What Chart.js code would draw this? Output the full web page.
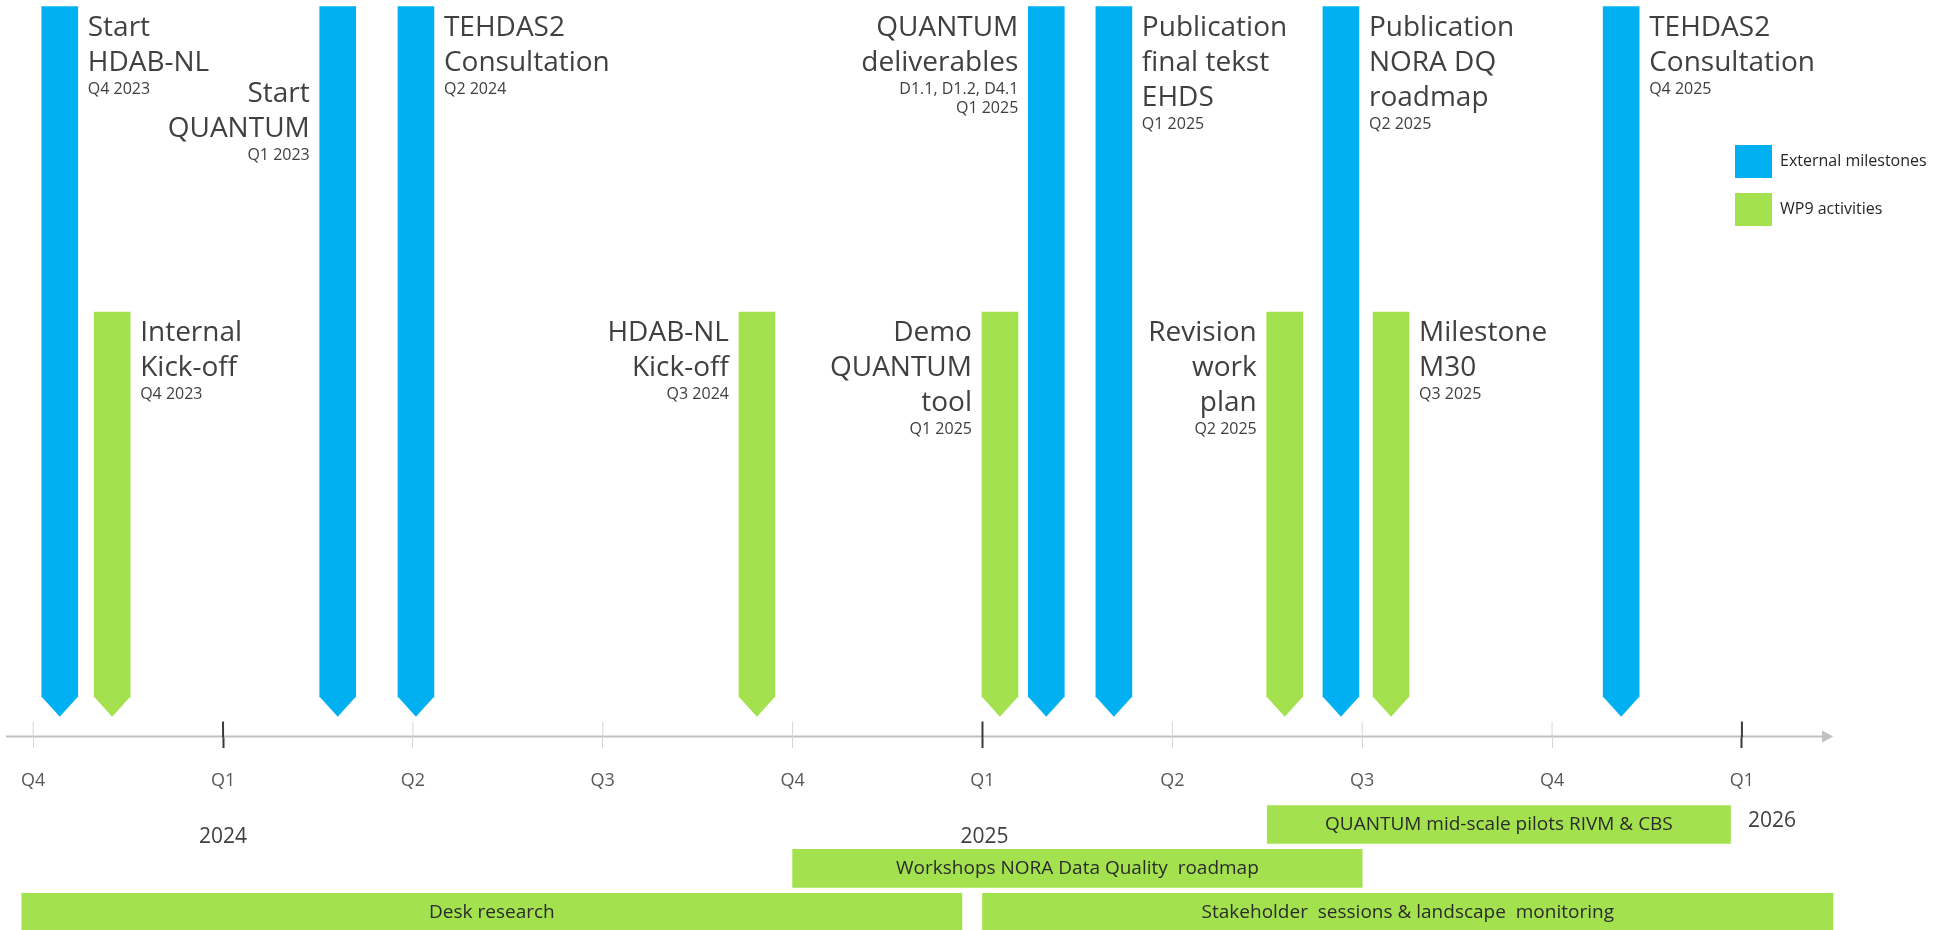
<!DOCTYPE html>
<html>
<head>
<meta charset="utf-8">
<title>WP9 timeline</title>
<script src="https://cdn.jsdelivr.net/npm/chart.js@4.4.1/dist/chart.umd.min.js"></script>
<style>
  html, body { margin: 0; padding: 0; background: #fff; }
  #wrap { width: 1933px; height: 930px; }
</style>
</head>
<body>
<div id="wrap"><canvas id="canvas"></canvas></div>
<script>
// time axis (years as decimals, one tick per quarter)
var quarterTicks = [2023.75, 2024, 2024.25, 2024.5, 2024.75, 2025, 2025.25, 2025.5, 2025.75, 2026];
var quarterLabels = ['Q4', 'Q1', 'Q2', 'Q3', 'Q4', 'Q1', 'Q2', 'Q3', 'Q4', 'Q1'];
var yearTicks = [2024, 2025, 2026];
var yearLabels = ['2024', '2025', '2026'];

// external milestones
var extDates = [2023.785, 2024.151, 2024.254, 2025.084, 2025.173, 2025.472, 2025.841];
var extTitles = [['Start', 'HDAB-NL'], ['Start', 'QUANTUM'], ['TEHDAS2', 'Consultation'], ['QUANTUM', 'deliverables'],
    ['Publication', 'final tekst', 'EHDS'], ['Publication', 'NORA DQ', 'roadmap'], ['TEHDAS2', 'Consultation']];
var extNotes = [['Q4 2023'], ['Q1 2023'], ['Q2 2024'], ['D1.1, D1.2, D4.1', 'Q1 2025'], ['Q1 2025'], ['Q2 2025'], ['Q4 2025']];

// WP9 milestones
var wp9Dates = [2023.854, 2024.703, 2025.023, 2025.398, 2025.538];
var wp9Titles = [['Internal', 'Kick-off'], ['HDAB-NL', 'Kick-off'], ['Demo', 'QUANTUM', 'tool'], ['Revision', 'work', 'plan'], ['Milestone', 'M30']];
var wp9Notes = [['Q4 2023'], ['Q3 2024'], ['Q1 2025'], ['Q2 2025'], ['Q3 2025']];

// WP9 running activities
var actNames = ['QUANTUM mid-scale pilots RIVM & CBS', 'Workshops NORA Data Quality  roadmap', 'Desk research', 'Stakeholder  sessions & landscape  monitoring'];
var actStart = [2025.375, 2024.75, 2023.735, 2025.0];
var actEnd = [2025.985, 2025.5, 2024.973, 2026.12];
var actLane = [1, 2, 3, 3];

// layout / style
var BLUE = '#00b0f0';
var GREEN = '#a3e24e';
var TEXT = '#404040';
var EXT_TOP = 16.6, WP9_TOP = 9.65, MARK_BASE = 0.9, MARK_TIP = 0.45;
var AXIS_END = 2026.12;
var extSide = ['right', 'left', 'right', 'left', 'right', 'right', 'right'];
var extDrop = [0, 66, 0, 0, 0, 0, 0];
var wp9Side = ['right', 'left', 'left', 'left', 'right'];
var yearNudge = [[0, 0], [2, 0], [30, -16]];

Chart.defaults.font.family = "'Open Sans', sans-serif";

function drawLabel(ctx, el, title, notes, side, drop) {
    var gap = 10;
    var x = side === 'right' ? el.x + el.width / 2 + gap : el.x - el.width / 2 - gap;
    var y = el.y + 29 + drop;
    ctx.textAlign = side === 'right' ? 'left' : 'right';
    ctx.textBaseline = 'alphabetic';
    ctx.fillStyle = TEXT;
    ctx.font = "28px 'Open Sans'";
    title.forEach(function (line, i) { ctx.fillText(line, x, y + i * 35); });
    y += (title.length - 1) * 35 + 23;
    ctx.font = "16px 'Open Sans'";
    notes.forEach(function (line, i) { ctx.fillText(line, x, y + i * 19); });
}

var timeline = {
    id: 'timeline',
    beforeDatasetsDraw: function (chart) {
        var ctx = chart.ctx, xs = chart.scales.x, ys = chart.scales.y;
        var axisY = ys.getPixelForValue(0);
        var endX = xs.getPixelForValue(AXIS_END);
        ctx.save();
        ctx.strokeStyle = '#c0c0c0';
        ctx.lineWidth = 2;
        ctx.beginPath();
        ctx.moveTo(chart.chartArea.left + 6, axisY);
        ctx.lineTo(endX - 10, axisY);
        ctx.stroke();
        ctx.fillStyle = '#c0c0c0';
        ctx.beginPath();
        ctx.moveTo(endX - 11, axisY - 6);
        ctx.lineTo(endX, axisY);
        ctx.lineTo(endX - 11, axisY + 6);
        ctx.closePath();
        ctx.fill();
        // upper half of the quarter ticks
        xs.ticks.forEach(function (t, i) {
            var px = xs.getPixelForValue(t.value);
            var major = quarterLabels[i] === 'Q1';
            ctx.strokeStyle = major ? '#3a3a3a' : '#d6d6d6';
            ctx.lineWidth = major ? 2 : 1;
            ctx.beginPath();
            ctx.moveTo(px, axisY - 15);
            ctx.lineTo(px, axisY + 1);
            ctx.stroke();
        });
        ctx.restore();
    },
    afterDatasetsDraw: function (chart) {
        var ctx = chart.ctx, xs = chart.scales.x, ys = chart.scales.y;
        var tipY = ys.getPixelForValue(MARK_TIP);
        ctx.save();
        // arrow points of the milestone markers
        [0, 1].forEach(function (d) {
            var ds = chart.data.datasets[d];
            chart.getDatasetMeta(d).data.forEach(function (el) {
                var w = el.width / 2 + 0.3;
                ctx.fillStyle = ds.backgroundColor;
                ctx.beginPath();
                ctx.moveTo(el.x - w, el.base - 0.5);
                ctx.lineTo(el.x + w, el.base - 0.5);
                ctx.lineTo(el.x, tipY);
                ctx.closePath();
                ctx.fill();
            });
        });
        // milestone labels
        chart.getDatasetMeta(0).data.forEach(function (el, i) {
            drawLabel(ctx, el, extTitles[i], extNotes[i], extSide[i], extDrop[i]);
        });
        chart.getDatasetMeta(1).data.forEach(function (el, i) {
            drawLabel(ctx, el, wp9Titles[i], wp9Notes[i], wp9Side[i], 0);
        });
        // activity labels
        ctx.textAlign = 'center';
        ctx.textBaseline = 'middle';
        ctx.fillStyle = '#2b2b2b';
        ctx.font = "19px 'Open Sans'";
        chart.getDatasetMeta(2).data.forEach(function (el, i) {
            ctx.fillText(actNames[i], (el.x + el.base) / 2, el.y);
        });
        // years under the quarter labels
        var axisY = ys.getPixelForValue(0);
        ctx.fillStyle = TEXT;
        ctx.font = "21px 'Open Sans'";
        yearTicks.forEach(function (yr, i) {
            ctx.fillText(yearLabels[i], xs.getPixelForValue(yr) + yearNudge[i][0], axisY + 100 + yearNudge[i][1]);
        });
        // legend
        var lx = chart.chartArea.right - 198;
        ctx.textAlign = 'left';
        ctx.font = "16px 'Open Sans'";
        [0, 1].forEach(function (d) {
            var ds = chart.data.datasets[d];
            var top = 145 + d * 48;
            ctx.fillStyle = ds.backgroundColor;
            ctx.fillRect(lx, top, 37, 33);
            ctx.fillStyle = '#262626';
            ctx.fillText(ds.label, lx + 45, top + 16);
        });
        ctx.restore();
    }
};

window.onload = function () {
    var ctx = document.getElementById('canvas').getContext('2d');
    window.myChart = new Chart(ctx, {
        type: 'bar',
        data: {
            datasets: [{
                label: 'External milestones',
                indexAxis: 'x',
                data: extDates.map(function (d) { return { x: d, y: [MARK_BASE, EXT_TOP] }; }),
                backgroundColor: BLUE,
                barThickness: 36,
                grouped: false
            }, {
                label: 'WP9 activities',
                indexAxis: 'x',
                data: wp9Dates.map(function (d) { return { x: d, y: [MARK_BASE, WP9_TOP] }; }),
                backgroundColor: GREEN,
                barThickness: 36,
                grouped: false
            }, {
                label: 'Activities',
                indexAxis: 'y',
                data: actNames.map(function (n, i) { return { x: [actStart[i], actEnd[i]], y: -1 - actLane[i] }; }),
                backgroundColor: GREEN,
                barThickness: 38,
                grouped: false
            }]
        },
        options: {
            responsive: true,
            maintainAspectRatio: false,
            animation: false,
            events: [],
            layout: { padding: 0 },
            plugins: {
                legend: { display: false },
                tooltip: { enabled: false }
            },
            scales: {
                x: {
                    type: 'linear',
                    min: 2023.7063,
                    max: 2026.2516,
                    offset: false,
                    bounds: 'data',
                    grace: 0,
                    beginAtZero: false,
                    position: { y: 0 },
                    afterBuildTicks: function (scale) {
                        scale.ticks = quarterTicks.map(function (v) { return { value: v }; });
                    },
                    afterFit: function (scale) {
                        scale.paddingLeft = 0;
                        scale.paddingRight = 0;
                    },
                    border: { display: false },
                    grid: {
                        offset: false,
                        drawOnChartArea: false,
                        drawTicks: true,
                        tickLength: 11,
                        tickColor: function (c) { return quarterLabels[c.index] === 'Q1' ? '#3a3a3a' : '#d6d6d6'; },
                        tickWidth: function (c) { return quarterLabels[c.index] === 'Q1' ? 2 : 1; }
                    },
                    ticks: {
                        autoSkip: false,
                        maxRotation: 0,
                        padding: 23,
                        color: '#595959',
                        font: { size: 18 },
                        callback: function (v, i) { return quarterLabels[i]; }
                    }
                },
                y: {
                    type: 'linear',
                    min: -4.4,
                    max: 16.75,
                    offset: false,
                    bounds: 'data',
                    grace: 0,
                    beginAtZero: false,
                    grid: { offset: false },
                    display: false
                }
            }
        },
        plugins: [timeline]
    });
};
</script>
</body>
</html>
